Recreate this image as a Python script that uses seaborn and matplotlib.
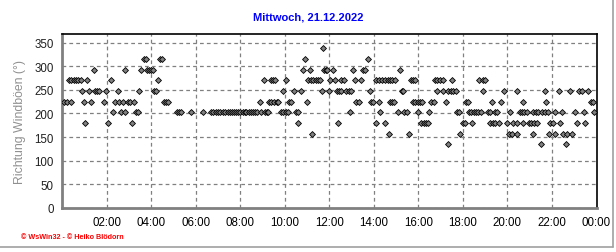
import matplotlib
matplotlib.use("Agg")
import matplotlib.pyplot as plt
from matplotlib.lines import Line2D
from matplotlib.ticker import MultipleLocator, FixedLocator
import seaborn as sns
import pandas as pd

# ---- data: minutes of the day for each wind-gust direction (degrees) ----
dir_337_5 = [702]
dir_315 = [220, 225, 264, 270, 654, 825]
dir_292_5 = [85, 170, 212, 228, 234, 240, 244, 650, 668, 706, 711, 715, 730, 784,
             811, 816, 911]
dir_270 = [18, 24, 31, 37, 44, 50, 68, 131, 259, 544, 562, 568, 575, 603, 664, 670,
           677, 684, 690, 696, 723, 735, 753, 759, 789, 805, 847, 855, 863, 870, 877,
           883, 889, 896, 939, 945, 951, 1004, 1010, 1019, 1026, 1050, 1123, 1133, 1140]
dir_247_5 = [55, 73, 89, 95, 101, 118, 150, 208, 249, 254, 596, 624, 644, 700, 718,
             740, 746, 751, 766, 773, 779, 829, 915, 919, 1010, 1027, 1041, 1047, 1054,
             1061, 1133, 1190, 1225, 1300, 1339, 1369, 1394, 1400, 1418]
dir_225 = [5, 13, 23, 60, 79, 114, 142, 154, 165, 178, 183, 194, 276, 281, 285, 533,
           557, 564, 571, 578, 583, 612, 618, 660, 793, 800, 833, 839, 853, 883, 889,
           895, 945, 951, 958, 964, 971, 995, 1001, 1035, 1088, 1094, 1159, 1183, 1243,
           1304, 1426, 1430]
dir_202_5 = [138, 159, 171, 200, 204, 310, 315, 320, 348, 381, 402, 408, 414, 421, 427,
             434, 440, 447, 453, 458, 464, 470, 475, 480, 487, 492, 497, 503, 508, 514,
             520, 526, 535, 546, 551, 556, 589, 596, 603, 610, 630, 635, 775, 858, 906,
             922, 929, 958, 989, 1063, 1069, 1097, 1103, 1109, 1115, 1122, 1130, 1149,
             1154, 1167, 1172, 1208, 1234, 1240, 1246, 1252, 1270, 1277, 1283, 1294,
             1300, 1309, 1327, 1348, 1382, 1405, 1434]
dir_180 = [63, 124, 189, 637, 743, 845, 869, 967, 975, 982, 987, 1080, 1085, 1104, 1154,
           1161, 1167, 1176, 1199, 1215, 1227, 1241, 1257, 1264, 1272, 1279, 1315, 1324,
           1342, 1387, 1409]
dir_157_5 = [673, 880, 934, 1073, 1203, 1212, 1227, 1270, 1311, 1329, 1351, 1360, 1374]
dir_135 = [1039, 1290, 1358]

tick_hours = [2, 4, 6, 8, 10, 12, 14, 16, 18, 20, 22, 24]
tick_labels = ["02:00", "04:00", "06:00", "08:00", "10:00", "12:00", "14:00",
               "16:00", "18:00", "20:00", "22:00", "00:00"]
y_ticks = [0, 50, 100, 150, 200, 250, 300, 350]

title = "Mittwoch, 21.12.2022"
ylabel = "Richtung Windböen (°)"
footer = "© WsWin32 - © Heiko Blödorn"

series = [(337.5, dir_337_5), (315, dir_315), (292.5, dir_292_5), (270, dir_270),
          (247.5, dir_247_5), (225, dir_225), (202.5, dir_202_5), (180, dir_180),
          (157.5, dir_157_5), (135, dir_135)]
rows = []
for d, mins in series:
    for m in mins:
        rows.append({"hour": m / 60.0, "dir": d})
df = pd.DataFrame(rows)

# ---- figure ----
sns.set_style("white")
plt.rcParams["font.family"] = ["Liberation Sans", "DejaVu Sans"]

W, H = 616, 253
fig = plt.figure(figsize=(W / 100, H / 100), dpi=100)
fig.patch.set_facecolor("white")
L, R, T, B = 62, 596.5, 35, 209
ax = fig.add_axes([L / W, (H - B) / H, (R - L) / W, (B - T) / H])

sns.scatterplot(data=df, x="hour", y="dir", ax=ax, marker="D", s=9,
                color="#808080", edgecolor="black", linewidth=0.6, zorder=3,
                legend=False)

ax.set_xlim(0, 24)
ax.set_ylim(0, 368)
ax.xaxis.set_major_locator(FixedLocator(tick_hours))
ax.set_xticklabels(tick_labels)
ax.xaxis.set_minor_locator(MultipleLocator(0.5))
ax.yaxis.set_major_locator(FixedLocator(y_ticks))
ax.yaxis.set_minor_locator(MultipleLocator(10))

ax.grid(True, which="major", linestyle=(0, (3, 2.5)), color="#808080", linewidth=0.9)
ax.set_axisbelow(True)

ax.tick_params(axis="both", which="major", direction="out", length=4, width=1,
               color="#808080", labelsize=8.3, labelcolor="black", pad=2)
ax.tick_params(axis="both", which="minor", direction="out", length=2.5, width=0.8,
               color="#808080")
ax.tick_params(axis="y", labelcolor="#202020")

for side in ["left", "bottom"]:
    ax.spines[side].set_color("#808080")
    ax.spines[side].set_linewidth(2)
for side in ["top", "right"]:
    ax.spines[side].set_color("black")
    ax.spines[side].set_linewidth(1.2)

ax.set_xlabel("")
ax.set_ylabel(ylabel, color="#909090", fontsize=8.8, labelpad=6)

fig.text(0.5, 1 - 17 / H, title, ha="center", va="center", color="#0000ff",
         fontsize=8, fontweight="bold")
fig.text(21 / W, 1 - 238 / H, footer, ha="left", va="center", color="#ff0000",
         fontsize=5.2, fontweight="bold")

# window frame lines (right and bottom)
fig.add_artist(Line2D([612.5 / W, 612.5 / W], [1 - 0 / H, 1 - 248 / H],
                      color="#a0a0a0", linewidth=1.2, transform=fig.transFigure))
fig.add_artist(Line2D([0, 612.5 / W], [1 - 248 / H, 1 - 248 / H],
                      color="#a0a0a0", linewidth=1.2, transform=fig.transFigure))

fig.savefig("out.png", dpi=100, facecolor="white")
